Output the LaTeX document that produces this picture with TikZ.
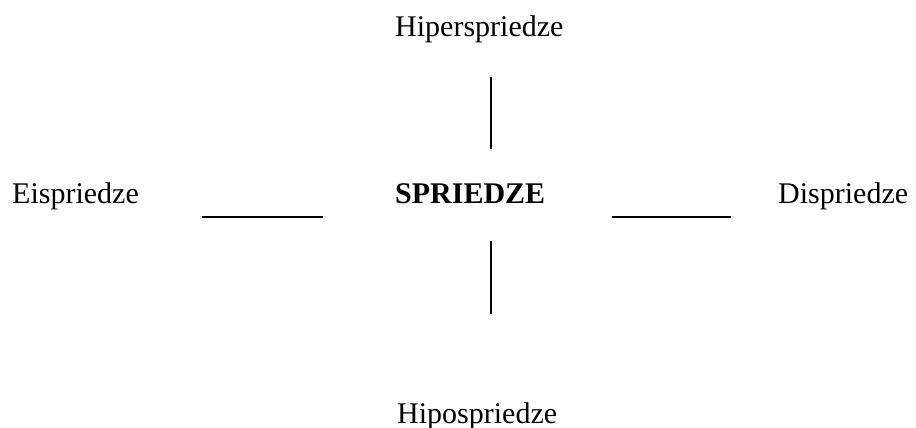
\documentclass[tikz,border=0pt]{standalone}
\usepackage{fontspec}
\setmainfont{Liberation Serif}
\begin{document}
\begin{tikzpicture}[x=1pt,y=-1pt,
  lbl/.style={anchor=base west,inner sep=0pt,font=\fontsize{30}{36}\selectfont},
  rule/.style={line width=1.5pt,black}]
\useasboundingbox[fill=white] (0,0) rectangle (916,428);
\node[lbl] (hiper) at (395,37) {Hiperspriedze};
\node[lbl] (eis) at (12,203) {Eispriedze};
\node[lbl,font=\fontsize{30}{36}\selectfont\bfseries] (spr) at (395,203) {SPRIEDZE};
\node[lbl] (dis) at (778,203) {Dispriedze};
\node[lbl] (hipo) at (397,423) {Hipospriedze};
\coordinate (ut) at (491,77);
\coordinate (ub) at (491,149);
\coordinate (lt) at (491,241);
\coordinate (lb) at (491,314);
\coordinate (ll) at (202,217);
\coordinate (lr) at (323,217);
\coordinate (rl) at (612,217);
\coordinate (rr) at (731,217);
\draw[rule] (ut) -- (ub);
\draw[rule] (lt) -- (lb);
\draw[rule] (ll) -- (lr);
\draw[rule] (rl) -- (rr);
\end{tikzpicture}
\end{document}
